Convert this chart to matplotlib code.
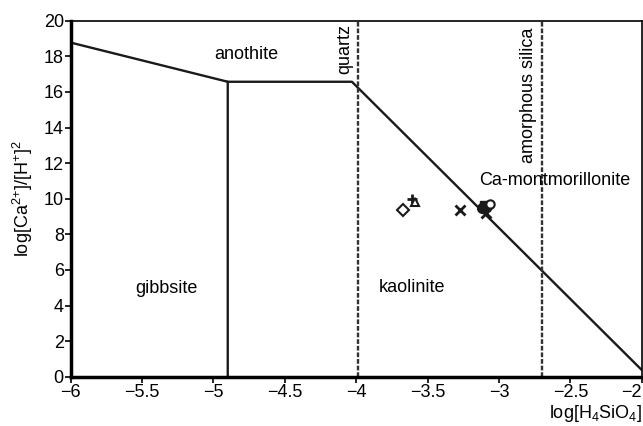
import matplotlib.pyplot as plt

plt.rcParams['font.family'] = ['Liberation Sans', 'DejaVu Sans']
plt.rcParams['mathtext.fontset'] = 'custom'
plt.rcParams['mathtext.rm'] = 'Liberation Sans'
plt.rcParams['mathtext.it'] = 'Liberation Sans'
plt.rcParams['mathtext.default'] = 'regular'

# stability field boundaries (log H4SiO4, log Ca/H^2)
bound_x = [-6.0, -4.9, -4.9]
bound_y = [18.77, 16.57, 0.0]
bound2_x = [-4.9, -4.03, -2.0]
bound2_y = [16.57, 16.57, 0.38]

quartz_x = -3.99
amorph_x = -2.70

# samples
samples = [
    ('+', -3.61, 9.98, False),
    ('^', -3.59, 9.8, False),
    ('D', -3.67, 9.37, False),
    ('x', -3.275, 9.37, True),
    ('o', -3.12, 9.5, True),
    ('s', -3.10, 9.6, True),
    ('o', -3.06, 9.7, False),
    ('x', -3.09, 9.2, True),
]

fig = plt.figure(figsize=(6.43, 4.26), dpi=100)
ax = fig.add_axes([0.110, 0.1157, 0.888, 0.8357])

ax.plot(bound_x, bound_y, color='#1a1a1a', lw=1.7)
ax.plot(bound2_x, bound2_y, color='#1a1a1a', lw=1.7)
ax.axvline(quartz_x, color='#333333', lw=1.7, ls=(0, (2, 0.8)))
ax.axvline(amorph_x, color='#333333', lw=1.7, ls=(0, (2, 0.8)))

for m, x, y, filled in samples:
    if m in ('+', 'x'):
        ax.plot(x, y, marker=m, color='#1a1a1a', ms=6.5, mew=2)
    elif filled:
        ax.plot(x, y, marker=m, color='#1a1a1a', ms=7, mfc='#1a1a1a')
    else:
        ax.plot(x, y, marker=m, color='#1a1a1a', ms=6, mfc='white', mew=1.5)

fs = 13
ax.text(-4.77, 18.08, 'anothite', fontsize=fs, ha='center', va='center')
ax.text(-5.33, 4.98, 'gibbsite', fontsize=fs, ha='center', va='center')
ax.text(-3.61, 5.0, 'kaolinite', fontsize=fs, ha='center', va='center')
ax.text(-2.61, 11.0, 'Ca-montmorillonite', fontsize=fs, ha='center', va='center')
ax.text(-4.08, 18.4, 'quartz', fontsize=fs, ha='center', va='center', rotation=90)
ax.text(-2.79, 15.8, 'amorphous silica', fontsize=fs, ha='center', va='center', rotation=90)

ax.set_xlim(-6, -2)
ax.set_ylim(0, 20)
ax.set_xticks([-6, -5.5, -5, -4.5, -4, -3.5, -3, -2.5, -2])
ax.set_xticklabels(['\u22126', '\u22125.5', '\u22125', '\u22124.5', '\u22124',
                    '\u22123.5', '\u22123', '\u22122.5', '\u22122'])
ax.get_xticklabels()[-1].set_horizontalalignment('right')
ax.set_yticks(range(0, 21, 2))
ax.tick_params(labelsize=fs, length=4, width=1.2, direction='out', pad=1)

ax.spines['left'].set_linewidth(2.5)
ax.spines['bottom'].set_linewidth(2.5)
ax.spines['top'].set_linewidth(1.2)
ax.spines['right'].set_linewidth(1.2)

ax.set_ylabel('log[Ca$^{2{+}}$]/[H$^{+}$]$^{2}$', fontsize=fs, labelpad=6)
fig.text(0.998, 0.005, 'log[H$_4$SiO$_4$]', fontsize=fs, ha='right', va='bottom')

fig.savefig('out.png', dpi=100)
